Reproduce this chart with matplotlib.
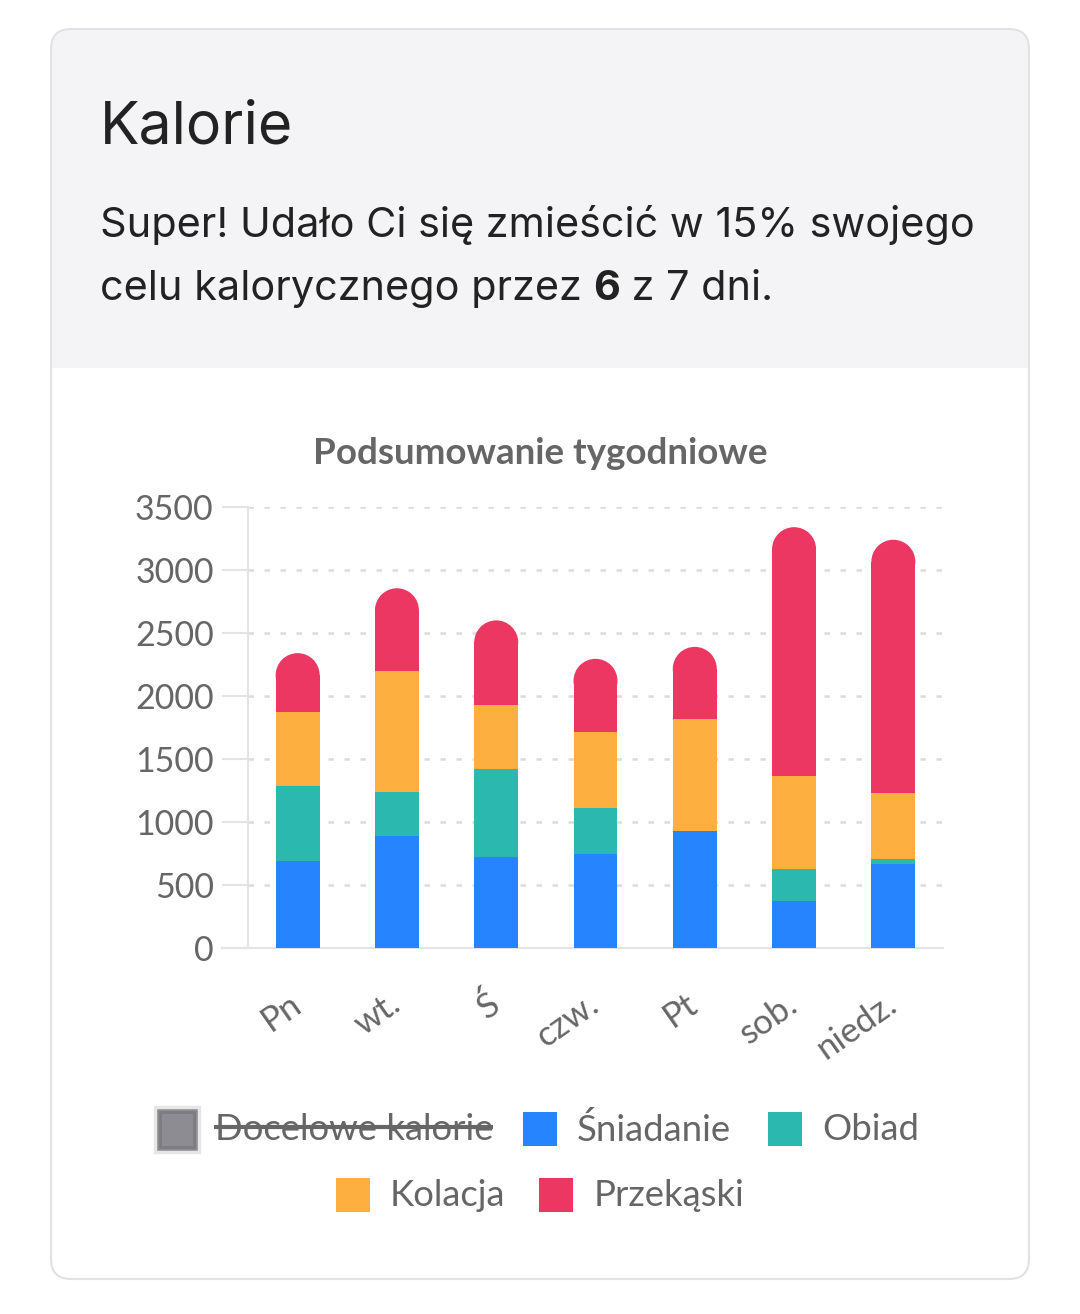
import numpy as np
import matplotlib.pyplot as plt
from matplotlib.patches import FancyBboxPatch, Rectangle, Ellipse

# data
days = ['Pn', 'wt.', 'Ś', 'czw.', 'Pt', 'sob.', 'niedz.']
sniadanie = [690, 890, 720, 750, 930, 375, 670]
obiad = [595, 345, 700, 360, 0, 255, 40]
kolacja = [585, 960, 510, 605, 885, 735, 520]
przekaski = [470, 660, 670, 580, 575, 1975, 2010]

series_names = ['Śniadanie', 'Obiad', 'Kolacja', 'Przekąski']
colors = ['#2684ff', '#2bb8ae', '#fdb03f', '#eb3762']
y_ticks = [0, 500, 1000, 1500, 2000, 2500, 3000, 3500]

W, H = 1080, 1314
GREY = '#666666'
HEAD_FONT = 'Inter'
CHART_FONT = 'Lato'

fig = plt.figure(figsize=(W / 100, H / 100), dpi=100)
fig.patch.set_facecolor('white')

# background layer in pixel coordinates
bg = fig.add_axes([0, 0, 1, 1])
bg.set_xlim(0, W)
bg.set_ylim(H, 0)
bg.axis('off')

card = FancyBboxPatch((51, 29), 978, 1250, boxstyle='round,pad=0,rounding_size=20',
                      facecolor='white', edgecolor='none', zorder=0)
bg.add_patch(card)
head = FancyBboxPatch((51, 29), 978, 400, boxstyle='round,pad=0,rounding_size=20',
                      facecolor='#f4f4f6', edgecolor='none', zorder=1)
bg.add_patch(head)
bg.add_patch(Rectangle((51, 368), 978, 80, facecolor='white', edgecolor='none', zorder=2))
border = FancyBboxPatch((51, 29), 978, 1250, boxstyle='round,pad=0,rounding_size=20',
                        facecolor='none', edgecolor='#e2e2e6', lw=1.5, zorder=3)
bg.add_patch(border)

bg.text(100, 143, 'Kalorie', fontsize=42.5, family=HEAD_FONT, color='#222222',
        va='baseline', ha='left', zorder=4)
bg.text(100, 237, 'Super! Udało Ci się zmieścić w 15% swojego', fontsize=29.8,
        family=HEAD_FONT, color='#222222', va='baseline', ha='left', zorder=4)

renderer = fig.canvas.get_renderer()
x = 100
for part, weight in [('celu kalorycznego przez ', 'normal'), ('6', 'bold'), (' z 7 dni.', 'normal')]:
    t = bg.text(x, 300, part, fontsize=29.8, family=HEAD_FONT, color='#222222',
                weight=weight, va='baseline', ha='left', zorder=4)
    ext = t.get_window_extent(renderer=renderer)
    x += ext.width

bg.text(540, 464, 'Podsumowanie tygodniowe', fontsize=26.5, family=CHART_FONT,
        weight='bold', color=GREY, va='baseline', ha='center', zorder=4)

# chart axes
left, right, top, bottom = 248, 943, 507, 948
ax = fig.add_axes([left / W, (H - bottom) / H, (right - left) / W, (bottom - top) / H])
ax.set_facecolor('none')
ax.set_zorder(5)

xpos = np.arange(len(days))
bar_w = 0.443
ax.set_xlim(-0.5, len(days) - 0.5)
ax.set_ylim(0, 3500)

# rounded cap radius in data units
px_per_x = (right - left) / len(days)
px_per_y = (bottom - top) / 3500
r_y = (bar_w / 2) * px_per_x / px_per_y

stack = [sniadanie, obiad, kolacja]
base = np.zeros(len(days))
for vals, c in zip(stack, colors[:3]):
    ax.bar(xpos, vals, bar_w, bottom=base, color=c, zorder=3, linewidth=0)
    base += np.array(vals)

# top segment with a rounded cap
top_vals = np.array(przekaski)
ax.bar(xpos, top_vals - r_y, bar_w, bottom=base, color=colors[3], zorder=3, linewidth=0)
for xi, b, v in zip(xpos, base, top_vals):
    ax.add_patch(Ellipse((xi, b + v - r_y), bar_w, 2 * r_y, facecolor=colors[3],
                         edgecolor='none', zorder=3))

ax.set_yticks(y_ticks)
ax.set_xticks(xpos)
ax.set_xticklabels(days, rotation=35, ha='right', va='center', rotation_mode='anchor')
ax.yaxis.grid(True, color='#dcdcdc', lw=1.8, linestyle=(0, (2.2, 4.2)), zorder=0)
ax.tick_params(axis='y', length=18.7, width=1.5, color='#e4e4e4', pad=6,
               labelsize=24.5, labelcolor=GREY)
ax.tick_params(axis='x', length=0, pad=38, labelsize=25, labelcolor=GREY)
for lab in ax.get_xticklabels() + ax.get_yticklabels():
    lab.set_family(CHART_FONT)
for s in ['top', 'right']:
    ax.spines[s].set_visible(False)
ax.spines['left'].set_color('#e4e4e4')
ax.spines['left'].set_linewidth(1.5)
ax.spines['bottom'].set_color('#e4e4e4')
ax.spines['bottom'].set_linewidth(1.5)
ax.spines['bottom'].set_bounds(-0.5 - 26 / px_per_x, len(days) - 0.5)

# legend drawn by hand (two centred rows)
bg.add_patch(Rectangle((155, 1107), 44, 45, facecolor='#8c8c92', edgecolor='#e6e6e6',
                       lw=2.5, zorder=4))
bg.add_patch(Rectangle((160, 1112), 34, 35, facecolor='#8c8c92', edgecolor='#7c7c82',
                       lw=2, zorder=4))
bg.text(215, 1130, 'Docelowe kalorie', fontsize=26.3, family=CHART_FONT, color=GREY,
        va='center', ha='left', zorder=4)
bg.plot([214, 493], [1127, 1127], color=GREY, lw=3, zorder=5, solid_capstyle='butt')

legend_items = [
    (523, 1129, 577, 0),
    (768, 1129, 822, 1),
    (336, 1195, 390, 2),
    (539, 1195, 594, 3),
]
for bx, cy, tx, i in legend_items:
    bg.add_patch(Rectangle((bx, cy - 17), 34, 34, facecolor=colors[i], edgecolor='none', zorder=4))
    bg.text(tx, cy + 1, series_names[i], fontsize=26.3, family=CHART_FONT, color=GREY,
            va='center', ha='left', zorder=4)

fig.savefig('out.png', dpi=100)
